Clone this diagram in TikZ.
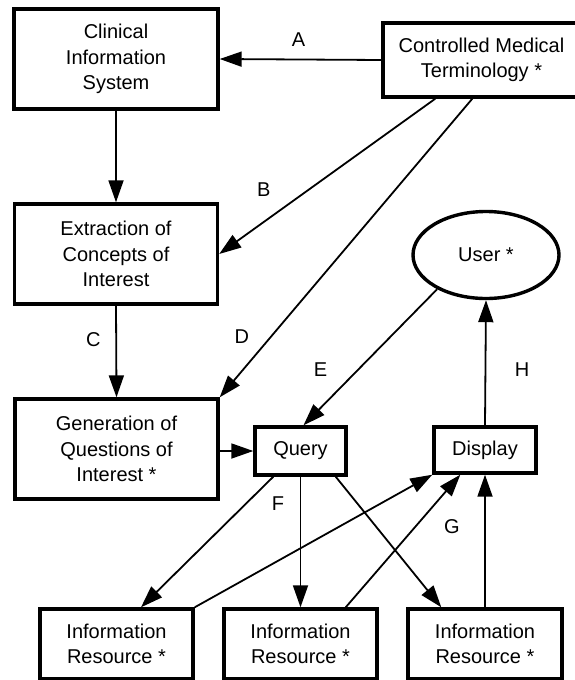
\documentclass[tikz,border=0pt]{standalone}
\usepackage{fontspec}
\setmainfont{Liberation Sans}
\usetikzlibrary{arrows.meta,shapes.geometric,calc}
\tikzset{
  box/.style={draw, line width=3.4pt, align=center, inner sep=0pt, font=\fontsize{20}{25.5}\selectfont},
  lab/.style={font=\fontsize{20}{24}\selectfont, inner sep=0pt},
  conn/.style={line width=1.8pt, -{Triangle[length=22pt,width=15pt]}},
}
\begin{document}
\begin{tikzpicture}[x=1pt,y=-1pt]
\useasboundingbox (0,0) rectangle (574,680);
% nodes
\node[box, minimum width=204pt, minimum height=100pt] (cis) at (116,59) {Clinical\\Information\\System};
\node[box, minimum width=197pt, minimum height=74pt] (cmt) at (481.5,60) {Controlled Medical\\Terminology *};
\node[box, minimum width=203pt, minimum height=100pt] (ext) at (116,254) {Extraction of\\Concepts of\\Interest};
\node[box, minimum width=203pt, minimum height=100pt] (gen) at (116.5,449) {Generation of\\Questions of\\Interest *};
\node[box, minimum width=91pt, minimum height=48pt] (query) at (300.5,451) {Query};
\node[box, minimum width=102pt, minimum height=46pt] (display) at (485,450) {Display};
\node[box, ellipse, minimum width=146pt, minimum height=87pt] (user) at (486,255) {User *};
\node[box, minimum width=153pt, minimum height=70pt] (ir1) at (116.5,644) {Information\\Resource *};
\node[box, minimum width=153pt, minimum height=70pt] (ir2) at (300.5,644) {Information\\Resource *};
\node[box, minimum width=154pt, minimum height=70pt] (ir3) at (485,644) {Information\\Resource *};
% labels
\node[lab] (la) at (298.5,40) {A};
\node[lab] (lb) at (263.7,190) {B};
\node[lab] (lc) at (93.4,340) {C};
\node[lab] (ld) at (241.8,337) {D};
\node[lab] (le) at (320.5,370) {E};
\node[lab] (lh) at (522,370) {H};
\node[lab] (lf) at (278,504) {F};
\node[lab] (lg) at (452,527) {G};
% connectors
\draw[conn] (cmt.west) -- (cis.east);
\draw[conn] (cis.south) -- (ext.north);
\draw[conn] ([xshift=54pt]cmt.south west) -- (ext.east);
\draw[conn] ([xshift=91pt]cmt.south west) -- (gen.north east);
\draw[conn] (ext.south) -- (gen.north);
\draw[conn] (gen.east |- query.west) -- (query.west);
\draw[conn] (user.215) -- ([xshift=3pt]query.north);
\draw[conn] (display.north) -- (user.south);
\draw[conn] ([xshift=20pt]query.south west) -- ([xshift=24.5pt]ir1.north);
\draw[conn] (query.south) -- (ir2.north);
\draw[conn] ([xshift=-12pt]query.south east) -- ([xshift=35pt]ir3.north west);
\draw[conn] (ir1.north east) -- (display.south west);
\draw[conn] ([xshift=-33pt]ir2.north east) -- ([xshift=28pt]display.south west);
\draw[conn] (ir3.north) -- (display.south);
\end{tikzpicture}
\end{document}
